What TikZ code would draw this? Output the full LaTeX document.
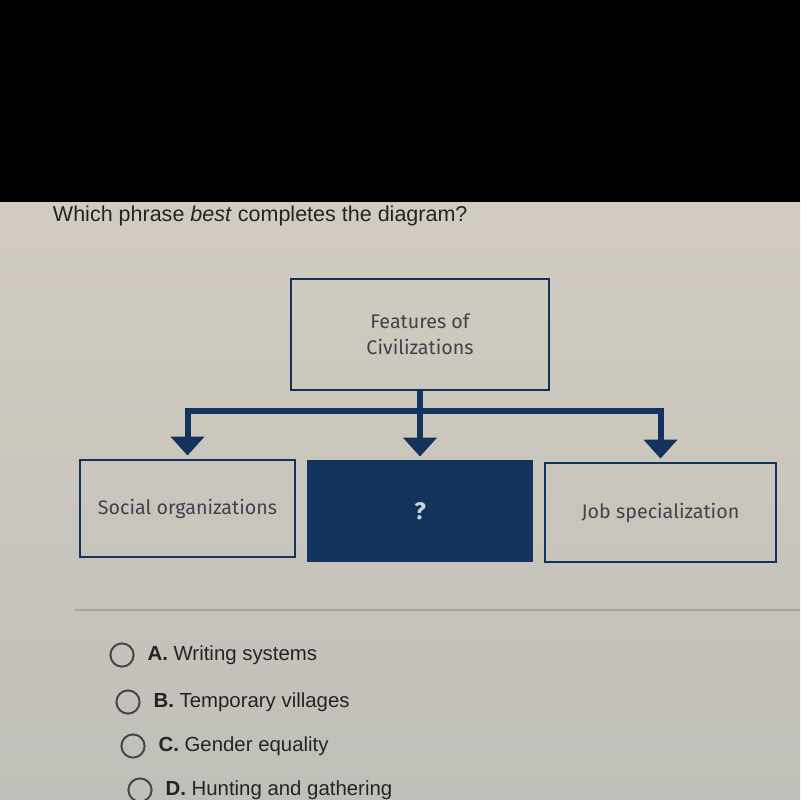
\documentclass[tikz,border=0pt]{standalone}
\usepackage{fontspec}
\setmainfont{Liberation Sans}
\newfontfamily\boxfont{Fira Sans}
\usepackage{xcolor}
\usepackage{tikz}
\usetikzlibrary{arrows.meta, positioning}
\definecolor{navy}{RGB}{18,52,92}
\definecolor{screentop}{RGB}{210,204,192}
\definecolor{screenlow}{RGB}{192,191,185}
\definecolor{boxtext}{RGB}{62,68,74}
\definecolor{ink}{RGB}{36,36,36}
\definecolor{rulegray}{RGB}{165,164,158}
\tikzset{
    feature/.style={rectangle, draw=navy, line width=2pt, text centered, align=center, text=boxtext, font=\boxfont\fontsize{14}{18.5}\selectfont},
    missing/.style={feature, fill=navy, text=white!78!navy, font=\boxfont\bfseries\fontsize{17}{18}\selectfont},
    branch/.style={-{Triangle[length=0.475cm, width=0.825cm]}, line width=0.15cm, draw=navy, shorten >=0.075cm},
    radio/.style={circle, draw=ink!85, line width=1.4pt, minimum size=0.58cm, inner sep=0pt},
    choice/.style={anchor=west, text=ink, font=\fontsize{14.5}{16}\selectfont}
}

\begin{document}
\begin{tikzpicture}[x=0.025cm, y=-0.025cm]
    \useasboundingbox (0,0) rectangle (800,800);
    % Screen
    \shade[top color=screentop, bottom color=screenlow] (0,202) rectangle (800,800);
    \fill[black] (0,0) rectangle (800,202);

    % Question
    \node[anchor=west, text=ink, font=\fontsize{15.3}{18}\selectfont] (question) at (48,216) {Which phrase \textit{best} completes the diagram?};

    % Diagram boxes
    \node[feature, minimum width=6.45cm, minimum height=2.775cm] (features) at (420,334.5) {Features of\\ Civilizations};
    \node[feature, minimum width=5.375cm, minimum height=2.425cm] (social) at (187.5,508.5) {Social organizations};
    \node[missing, minimum width=5.6cm, minimum height=2.5cm] (unknown) at (420,511) {?};
    \node[feature, minimum width=5.775cm, minimum height=2.475cm] (job) at (660.5,512.5) {Job specialization};

    % Branches
    \coordinate (bar) at (0,411);
    \coordinate (hub) at (features.south |- bar);
    \draw[navy, line width=0.15cm] (features.south) -- (hub);
    \draw[branch] (hub) -| (social.north);
    \draw[branch] (hub) -- (unknown.north);
    \draw[branch] (hub) -| (job.north);

    % Answer choices
    \draw[rulegray, line width=1pt] (75,610) -- (800,610);
    \foreach \y/\x/\letter/\answer in {655/122/A/Writing systems, 702/128/B/Temporary villages, 746/133/C/Gender equality, 790/140/D/Hunting and gathering} {
        \node[radio] (radio\letter) at (\x,\y) {};
        \node[choice, right=0.2cm of radio\letter] (choice\letter) {\textbf{\letter.}\ \answer};
    }
\end{tikzpicture}
\end{document}
